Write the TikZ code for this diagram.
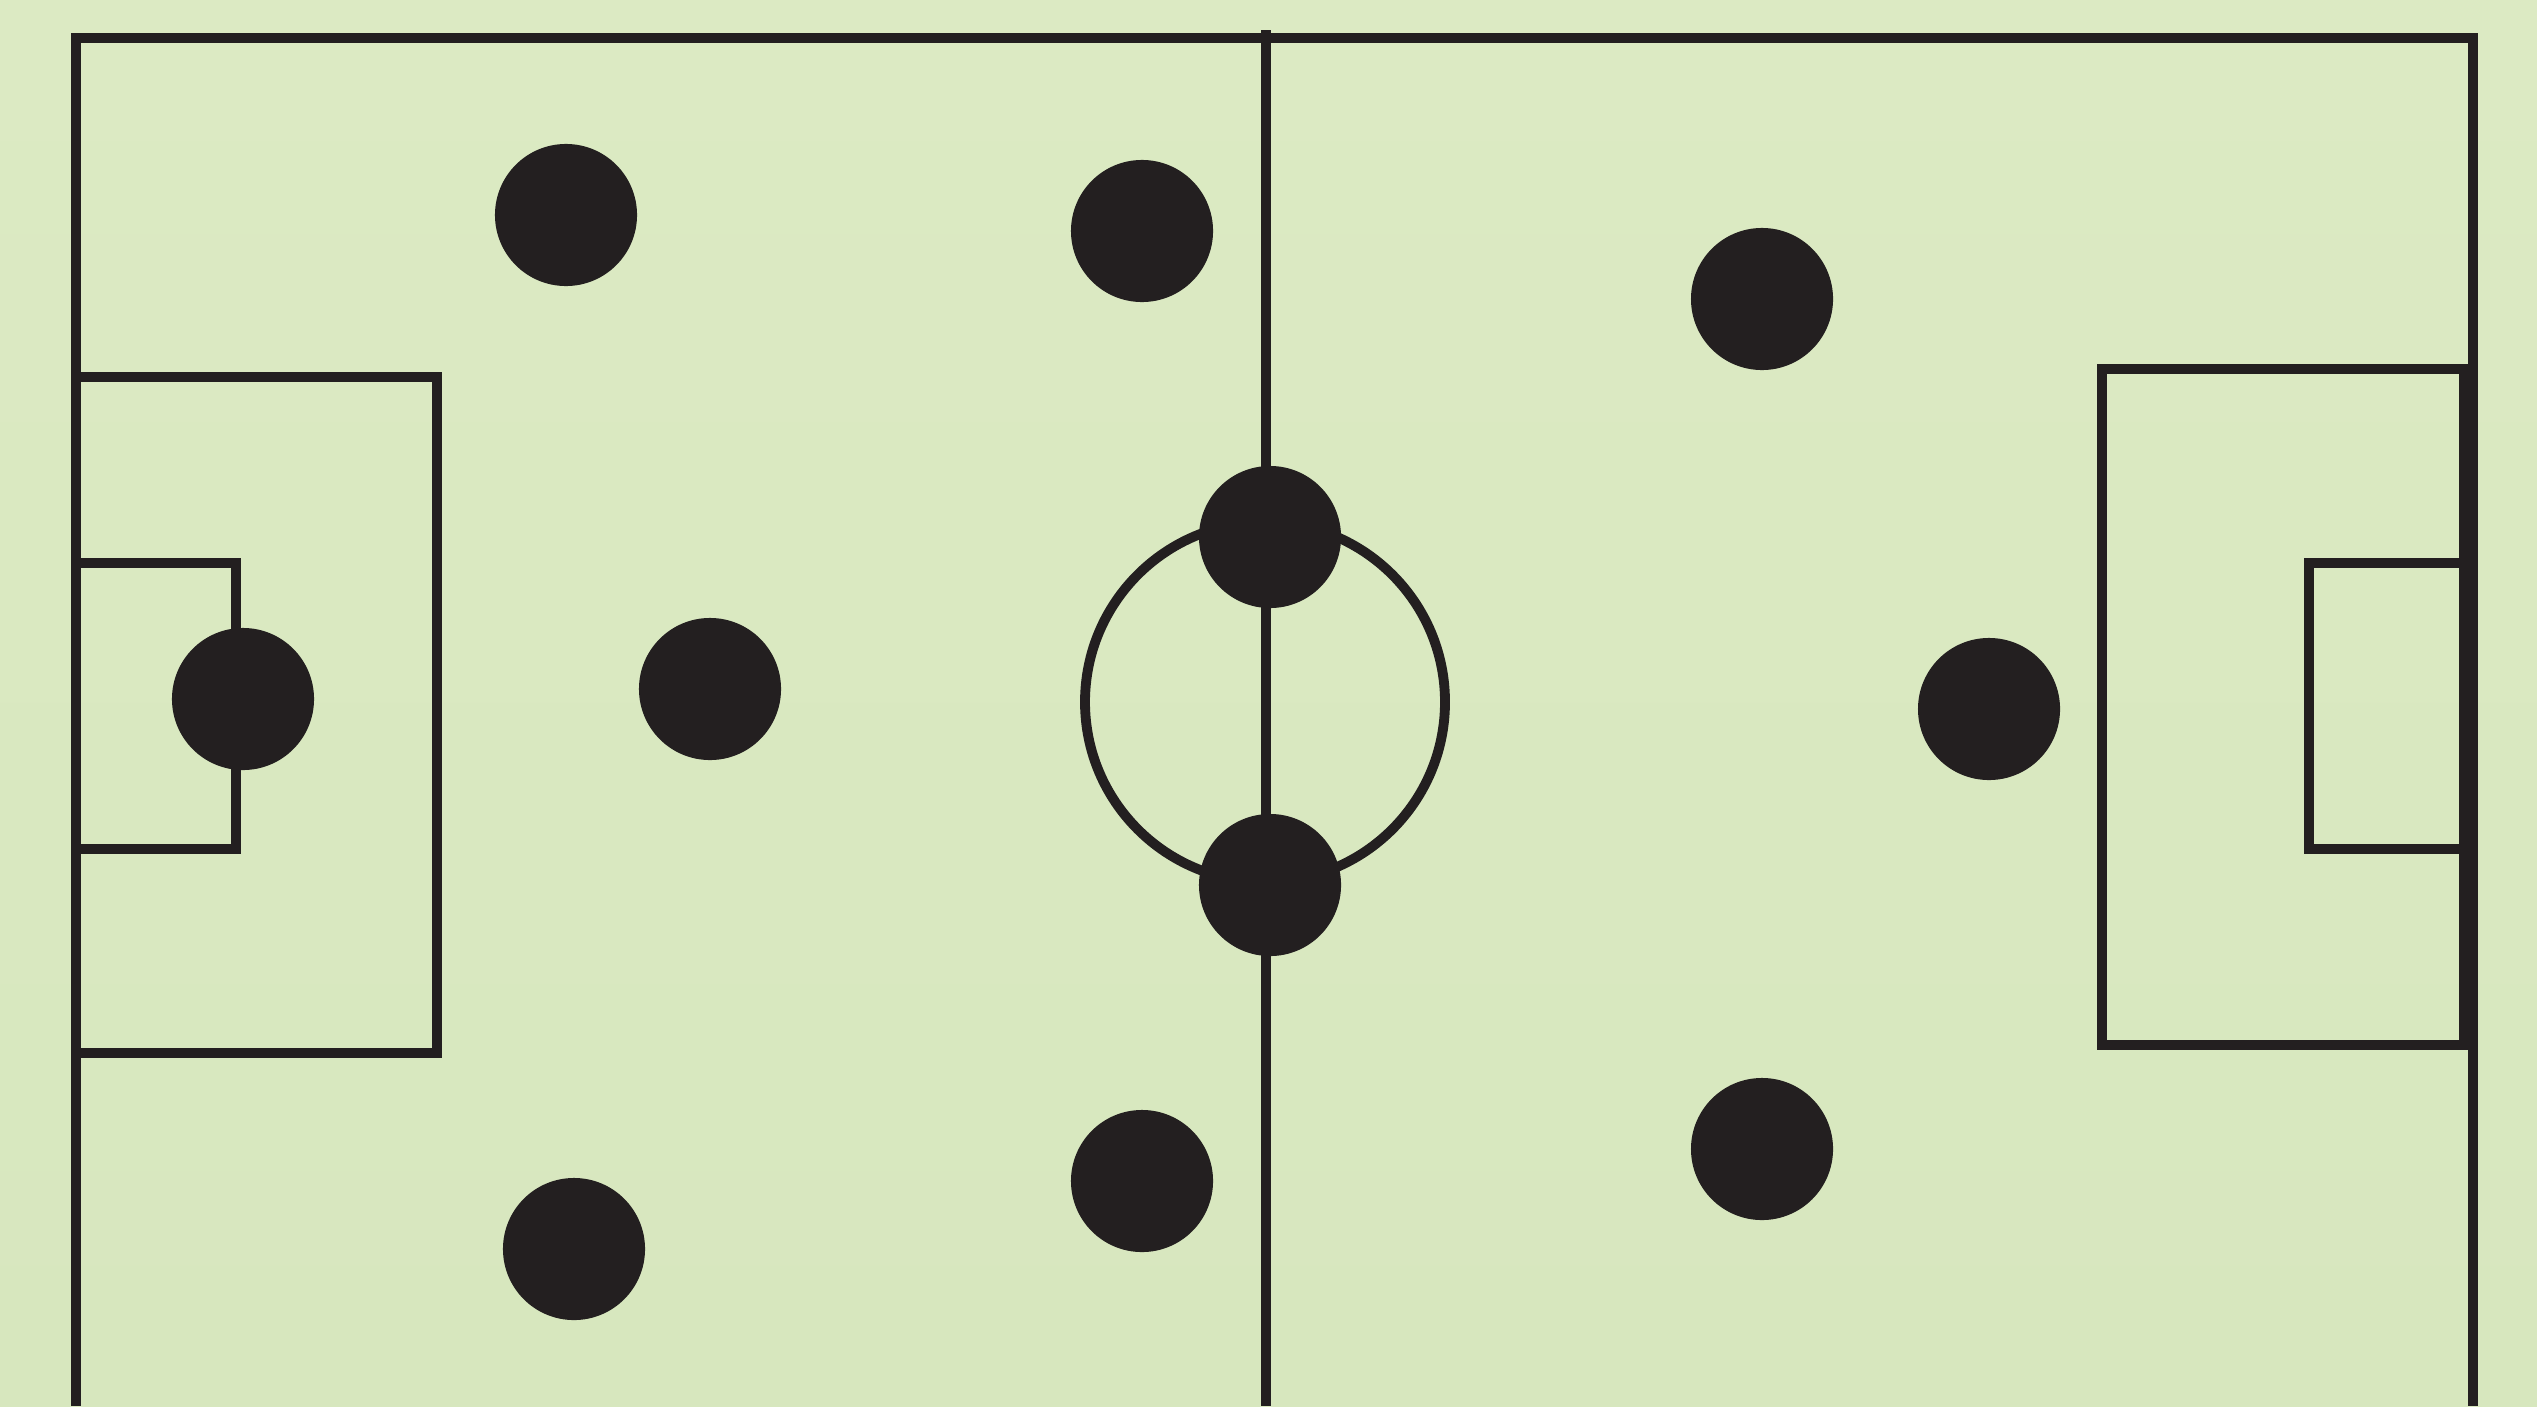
\documentclass[tikz,border=0pt]{standalone}
\usepackage{tikz}

\definecolor{grass}{HTML}{DCEAC3}
\definecolor{grassdark}{HTML}{D7E7BE}
\definecolor{chalk}{HTML}{231F20}

\tikzset{
  pitchline/.style={draw=chalk, line width=3.1pt},
  player/.style={circle, fill=chalk, minimum size=1.42cm, inner sep=0pt}
}

\begin{document}
\begin{tikzpicture}[x=0.01cm, y=-0.01cm]
  % background
  \useasboundingbox (0,0) rectangle (2537,1406);
  \shade[top color=grass, bottom color=grassdark] (0,0) rectangle (2537,1406);

  % pitch outline
  \draw[pitchline] (76,1406) -- (76,38) -- (2473,38) -- (2473,1406);
  \draw[pitchline] (1266,30) -- (1266,1406);

  % centre circle
  \draw[pitchline, line width=2.8pt] (1265,702) circle (180);

  % left penalty area and goal area
  \draw[pitchline] (76,377) -- (437,377) -- (437,1053) -- (76,1053);
  \draw[pitchline] (76,563) -- (236,563) -- (236,849) -- (76,849);

  % right penalty area and goal area
  \draw[pitchline] (2464,369) -- (2102,369) -- (2102,1045) -- (2464,1045) -- cycle;
  \draw[pitchline] (2464,563) -- (2309,563) -- (2309,849) -- (2464,849);

  % players
  \node[player] (p1)  at (566,215)   {};
  \node[player] (p2)  at (1142,231)  {};
  \node[player] (p3)  at (1762,299)  {};
  \node[player] (p4)  at (1270,537)  {};
  \node[player] (p5)  at (243,699)   {};
  \node[player] (p6)  at (710,689)   {};
  \node[player] (p7)  at (1989,709)  {};
  \node[player] (p8)  at (1270,885)  {};
  \node[player] (p9)  at (574,1249)  {};
  \node[player] (p10) at (1142,1181) {};
  \node[player] (p11) at (1762,1149) {};
\end{tikzpicture}
\end{document}
